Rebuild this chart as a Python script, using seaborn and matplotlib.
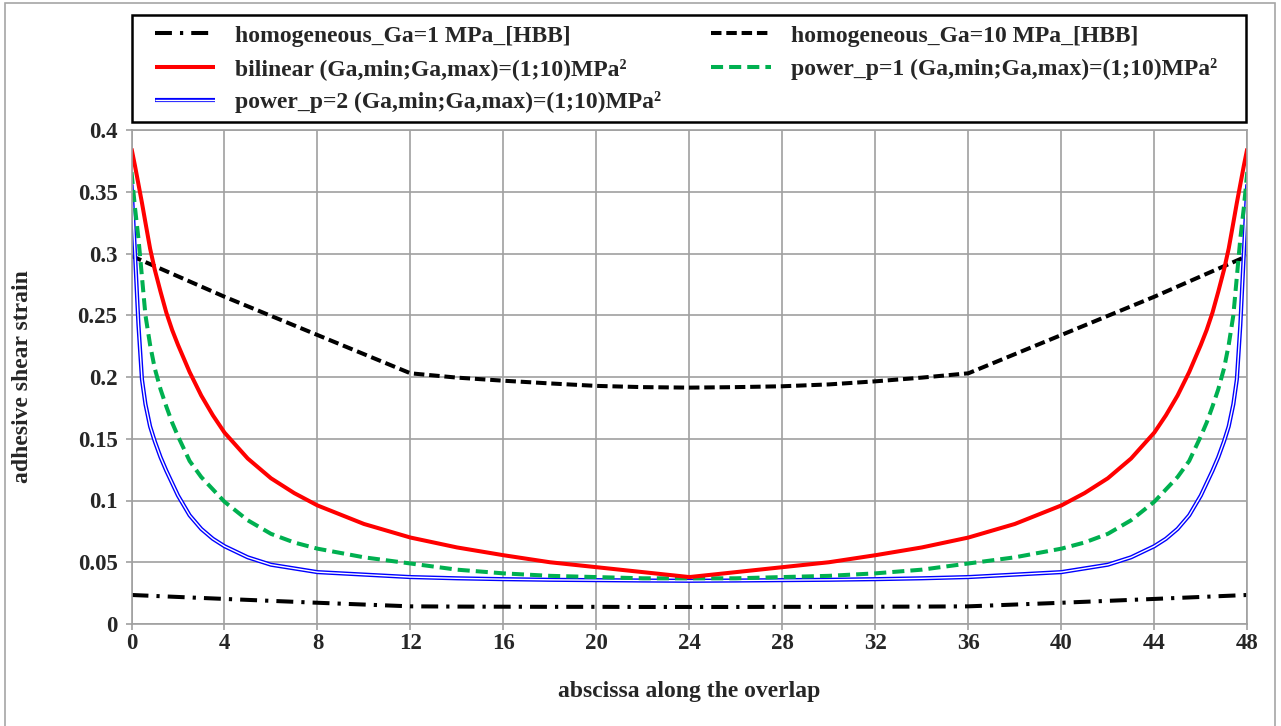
import matplotlib
matplotlib.use("Agg")
import matplotlib.pyplot as plt
import seaborn as sns
from matplotlib.patches import Rectangle

# ---------------- data ----------------
x_hom = [0, 4, 8, 12, 14, 16, 18, 20, 22, 24, 26, 28, 30, 32, 34, 36, 40, 44, 48]
y_ga1 = [0.0235, 0.0203, 0.0172, 0.0143, 0.0141, 0.0140, 0.0139, 0.0139, 0.0138, 0.0138,
         0.0138, 0.0139, 0.0139, 0.0140, 0.0141, 0.0143, 0.0172, 0.0203, 0.0235]
y_ga10 = [0.298, 0.265, 0.234, 0.2030, 0.1995, 0.1970, 0.1948, 0.1928, 0.1918, 0.1914,
          0.1918, 0.1925, 0.1940, 0.1965, 0.1995, 0.2030, 0.234, 0.265, 0.298]

x_fg = [0, 0.15, 0.3, 0.45, 0.6, 0.8, 1.0, 1.25, 1.5, 1.75, 2, 2.5, 3, 3.5, 4, 5, 6, 7, 8,
        10, 12, 14, 16, 18, 20, 22, 24,
        26, 28, 30, 32, 34, 36, 38, 40, 41, 42, 43, 44, 44.5, 45, 45.5, 46, 46.25, 46.5,
        46.75, 47, 47.2, 47.4, 47.55, 47.7, 47.85, 48]
y_bilinear = [0.385, 0.371, 0.356, 0.341, 0.325, 0.304, 0.287, 0.269, 0.252, 0.238, 0.226,
              0.204, 0.185, 0.169, 0.155, 0.134, 0.118, 0.106, 0.096, 0.081, 0.070, 0.062,
              0.0557, 0.050, 0.046, 0.042, 0.038,
              0.042, 0.046, 0.050, 0.0557, 0.062, 0.070, 0.081, 0.096, 0.106, 0.118, 0.134,
              0.155, 0.169, 0.185, 0.204, 0.226, 0.238, 0.252, 0.269, 0.287, 0.304, 0.325,
              0.341, 0.356, 0.371, 0.385]
y_power1 = [0.366, 0.337, 0.312, 0.281, 0.250, 0.226, 0.207, 0.190, 0.176, 0.163, 0.152,
            0.132, 0.119, 0.109, 0.099, 0.084, 0.073, 0.066, 0.061, 0.054, 0.049, 0.044,
            0.041, 0.039, 0.038, 0.037, 0.037,
            0.037, 0.038, 0.039, 0.041, 0.044, 0.049, 0.054, 0.061, 0.066, 0.073, 0.084,
            0.099, 0.109, 0.119, 0.132, 0.152, 0.163, 0.176, 0.190, 0.207, 0.226, 0.250,
            0.281, 0.312, 0.337, 0.366]
y_power2 = [0.356, 0.300, 0.242, 0.198, 0.178, 0.160, 0.148, 0.135, 0.124, 0.114, 0.104,
            0.088, 0.077, 0.069, 0.063, 0.054, 0.048, 0.045, 0.042, 0.040, 0.038, 0.037,
            0.0363, 0.0358, 0.0355, 0.0352, 0.0350,
            0.0352, 0.0355, 0.0358, 0.0363, 0.037, 0.038, 0.040, 0.042, 0.045, 0.048, 0.054,
            0.063, 0.069, 0.077, 0.088, 0.104, 0.114, 0.124, 0.135, 0.148, 0.160, 0.178,
            0.198, 0.242, 0.300, 0.356]

x_ticks = [0, 4, 8, 12, 16, 20, 24, 28, 32, 36, 40, 44, 48]
y_ticks = [0, 0.05, 0.1, 0.15, 0.2, 0.25, 0.3, 0.35, 0.4]
y_ticklabels = ["0", "0.05", "0.1", "0.15", "0.2", "0.25", "0.3", "0.35", "0.4"]

lab_ga1 = "homogeneous_Ga=1 MPa_[HBB]"
lab_ga10 = "homogeneous_Ga=10 MPa_[HBB]"
lab_bil = "bilinear (Ga,min;Ga,max)=(1;10)MPa²"
lab_p1 = "power_p=1 (Ga,min;Ga,max)=(1;10)MPa²"
lab_p2 = "power_p=2 (Ga,min;Ga,max)=(1;10)MPa²"
x_label = "abscissa along the overlap"
y_label = "adhesive shear strain"

# ---------------- style ----------------
sns.set_style("white")
plt.rcParams['font.family'] = ['Liberation Serif', 'DejaVu Serif']
plt.rcParams['font.weight'] = 'bold'

W, H = 1281, 726
fig = plt.figure(figsize=(W / 100, H / 100), dpi=100)
ax = fig.add_axes([131.5 / W, 1 - 624 / H, (1247.3 - 131.5) / W, (624 - 130) / H])

LW = 2.9
GRID = '#a0a0a0'

sns.lineplot(x=x_hom, y=y_ga1, ax=ax, color='black', linewidth=LW)
l_ga1 = ax.lines[-1]
l_ga1.set_dashes([4.2, 2.0, 0.8, 2.0])

sns.lineplot(x=x_hom, y=y_ga10, ax=ax, color='black', linewidth=LW)
l_ga10 = ax.lines[-1]
l_ga10.set_dashes([2.6, 1.2])

sns.lineplot(x=x_fg, y=y_power2, ax=ax, color='#0000ff', linewidth=3.0)
l_p2a = ax.lines[-1]
sns.lineplot(x=x_fg, y=y_power2, ax=ax, color='white', linewidth=1.0)
l_p2b = ax.lines[-1]

sns.lineplot(x=x_fg, y=y_power1, ax=ax, color='#00b050', linewidth=LW)
l_p1 = ax.lines[-1]
l_p1.set_dashes([3.0, 1.5])

sns.lineplot(x=x_fg, y=y_bilinear, ax=ax, color='#ff0000', linewidth=LW)
l_bil = ax.lines[-1]

for ln in ax.lines:
    ln.set_solid_capstyle('butt')
    ln.set_dash_capstyle('butt')
    ln.set_solid_joinstyle('round')

ax.set_xlim(0, 48)
ax.set_ylim(0, 0.4)
ax.set_xticks(x_ticks)
ax.set_xticklabels([str(v) for v in x_ticks])
ax.set_yticks(y_ticks)
ax.set_yticklabels(y_ticklabels)
ax.grid(True, color=GRID, linewidth=1.2)
ax.set_axisbelow(True)
for sp in ax.spines.values():
    sp.set_color(GRID)
    sp.set_linewidth(1.2)
ax.tick_params(axis='both', direction='out', length=4, width=1.2, color=GRID,
               labelsize=16.5, bottom=True, left=True)
ax.tick_params(axis='x', pad=2.5)
ax.tick_params(axis='y', pad=6)
for t in ax.get_xticklabels() + ax.get_yticklabels():
    t.set_fontweight('bold')
ax.set_xlabel(x_label, fontsize=17, fontweight='bold')
ax.set_ylabel(y_label, fontsize=17, fontweight='bold')
ax.xaxis.set_label_coords(0.5, (624 - 681) / 494)
ax.yaxis.set_label_coords((33 - 131.5) / 1115.8, 0.5)

# legend: two columns placed explicitly, frame drawn separately
prop = {'size': 17, 'weight': 'bold'}
common = dict(loc='upper left', frameon=False, borderaxespad=0, borderpad=0,
              prop=prop, handlelength=2.55, handletextpad=0.85, labelspacing=0.48)
leg1 = fig.legend([l_ga1, l_bil, (l_p2a, l_p2b)], [lab_ga1, lab_bil, lab_p2],
                  bbox_to_anchor=(155 / W, 1 - 25 / H), **common)
leg2 = fig.legend([l_ga10, l_p1], [lab_ga10, lab_p1],
                  bbox_to_anchor=(711 / W, 1 - 25 / H), **common)

fig.patches.append(Rectangle((132 / W, 1 - 122 / H), (1246 - 132) / W, 107 / H,
                             transform=fig.transFigure, fill=False,
                             edgecolor='black', linewidth=1.8))
fig.patches.append(Rectangle((5 / W, -0.01), 1270 / W, 0.01 + 723 / H,
                             transform=fig.transFigure, fill=False,
                             edgecolor='#a6a6a6', linewidth=1.2))

fig.savefig("out.png", dpi=100)
